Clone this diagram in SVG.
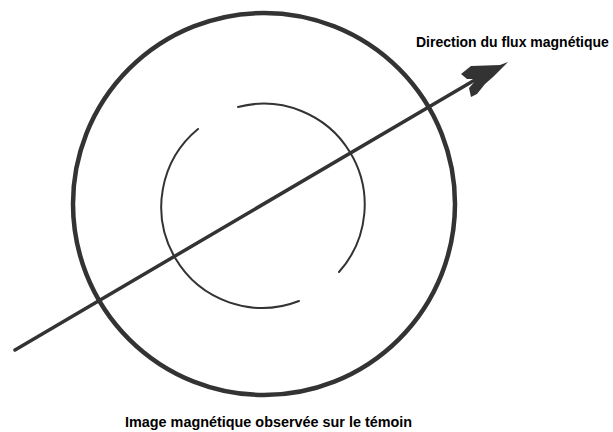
<svg xmlns="http://www.w3.org/2000/svg" width="613" height="432" viewBox="0 0 613 432">
<style>
.ln{fill:none;stroke:#333;stroke-linecap:round}
.t{font-family:"Liberation Sans",Arial,sans-serif;font-weight:bold;font-size:14px;fill:#000}
</style>
<rect width="613" height="432" fill="#fff"/>
<g id="outer-circle"><circle class="ln" cx="264" cy="204" r="191" stroke-width="4.5"/></g>
<g id="inner-image">
<path class="ln" stroke-width="2" d="M238,107 A101,101 0 0 1 339,272"/>
<path class="ln" stroke-width="2" d="M299,301 A101,101 0 0 1 198,129"/>
</g>
<g id="connectors">
<line class="ln" stroke-width="3.5" x1="15" y1="350" x2="485" y2="74"/>
<polygon fill="#333" points="508,62 500,65 471,66 461,74 467,79 477,79 469,88 471,97 477,94 485,84 493,77"/>
</g>
<g id="label-direction"><text class="t" x="416" y="47">Direction du flux magnétique</text></g>
<g id="label-image"><text class="t" x="125" y="427" style="font-size:14.4px">Image magnétique observée sur le témoin</text></g>
</svg>
